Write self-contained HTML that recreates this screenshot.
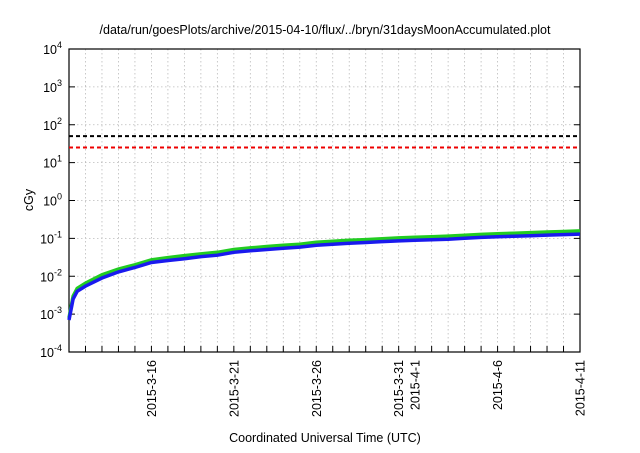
<!DOCTYPE html>
<html><head><meta charset="utf-8"><style>
body{margin:0;background:#fff;}
svg text{font-family:"Liberation Sans",sans-serif;fill:#000;}
</style></head><body>
<svg id="chart" width="640" height="448" viewBox="0 0 640 448" xmlns="http://www.w3.org/2000/svg">
<rect width="640" height="448" fill="#fff"/>
<text x="325" y="34" font-size="12.5" text-anchor="middle">/data/run/goesPlots/archive/2015-04-10/flux/../bryn/31daysMoonAccumulated.plot</text>
<text x="325" y="442" font-size="12.5" text-anchor="middle">Coordinated Universal Time (UTC)</text>
<text x="0" y="0" font-size="12.5" text-anchor="middle" transform="translate(33,200) rotate(-90)">cGy</text>
<g id="grid"></g><g id="axes"></g><g id="series"></g>
</svg>
<script>
const days = [0,0.25,0.5,1,2,3,4,5,6,7,8,9,10,11,12,13,14,15,16,17,18,19,20,21,22,23,24,25,26,27,28,29,30,31];
const blueVals = [0.0007,0.0025,0.004,0.0055,0.009,0.013,0.017,0.023,0.026,0.029,0.033,0.036,0.043,0.047,0.051,0.055,0.059,0.066,0.070,0.074,0.078,0.082,0.086,0.089,0.092,0.095,0.101,0.106,0.110,0.114,0.118,0.122,0.126,0.130];
const greenVals = [0.0008,0.003,0.0048,0.0066,0.011,0.0155,0.020,0.027,0.031,0.035,0.039,0.043,0.051,0.056,0.061,0.066,0.070,0.079,0.084,0.089,0.093,0.098,0.103,0.107,0.111,0.115,0.121,0.127,0.132,0.137,0.142,0.147,0.152,0.158];
const thresholds = [50, 25];
const yTickExps = [-4,-3,-2,-1,0,1,2,3,4];
const dateLabels = ["2015-3-16","2015-3-21","2015-3-26","2015-3-31","2015-4-1","2015-4-6","2015-4-11"];
const dateLabelDays = [5,10,15,20,21,26,31];

const L=69,R=580,T=49,B=352;
const X=d=>L+(d/31)*(R-L);
const Y=v=>B-(Math.log10(v)+4)/8*(B-T);
const NS="http://www.w3.org/2000/svg";
function mk(tag,attrs,parent){const e=document.createElementNS(NS,tag);for(const k in attrs)e.setAttribute(k,attrs[k]);parent.appendChild(e);return e;}
const grid=document.getElementById('grid'),axes=document.getElementById('axes'),ser=document.getElementById('series');

for(let d=1;d<31;d++){
  const l=mk('line',{x1:X(d),x2:X(d),y1:T,y2:B,stroke:'#bbb','stroke-width':0.8,'stroke-dasharray':'1.5,2.5'},grid);
  
  
  const t=mk('line',{x1:X(d),x2:X(d),y1:B,y2:B-6,stroke:'#000','stroke-width':1},axes);
  
  
}
yTickExps.forEach(e=>{
  const y=Y(Math.pow(10,e));
  if(e>-4&&e<4){
    const l=mk('line',{x1:L,x2:R,y1:y,y2:y,stroke:'#bbb','stroke-width':0.8,'stroke-dasharray':'1.5,2.5'},grid);
    
    
  }
  const t1=mk('line',{x1:L,x2:L+6,y1:y,y2:y,stroke:'#000'},axes);
  
  
  const t2=mk('line',{x1:R,x2:R-6,y1:y,y2:y,stroke:'#000'},axes);
  
  
  const tx=mk('text',{x:L-7,y:y+5,'font-size':12.5,'text-anchor':'end'},axes);
  
  
  tx.appendChild(document.createTextNode('10'));
  const sp=mk('tspan',{dy:-6,'font-size':9},tx);sp.textContent=String(e);
});
dateLabels.forEach((s,i)=>{
  const x=X(dateLabelDays[i]);
  const t=mk('text',{x:0,y:0,'font-size':12.5,'text-anchor':'end',transform:`translate(${x+4.5},${B+8}) rotate(-90)`},axes);
  
  
  t.textContent=s;
});
const frame=mk('rect',{x:L,y:T,width:R-L,height:B-T,fill:'none',stroke:'#000','stroke-width':1.2},axes);



const colors=['#000','#e00'];
thresholds.forEach((v,i)=>{
  const l=mk('line',{x1:L,x2:R,y1:Y(v),y2:Y(v),stroke:colors[i],'stroke-width':2,'stroke-dasharray':'4,3'},ser);
  
  
});
function path(vals){return vals.map((v,i)=>(i?'L':'M')+X(days[i]).toFixed(1)+','+Y(v).toFixed(1)).join('');}
const g=mk('path',{d:path(greenVals),fill:'none',stroke:'#22cc22','stroke-width':3.5},ser);


const b=mk('path',{d:path(blueVals),fill:'none',stroke:'#1a1aee','stroke-width':3.5},ser);


</script>
</body></html>
